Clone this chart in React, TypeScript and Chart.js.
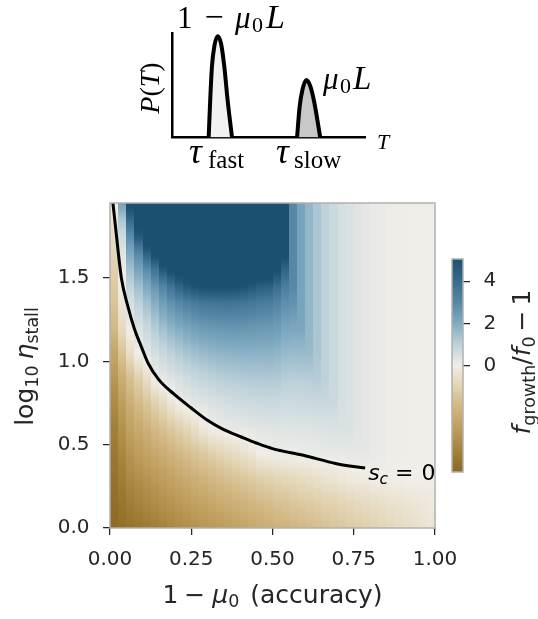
import React, { useEffect, useRef } from 'react';
import { Chart, registerables } from 'chart.js';

Chart.register(...registerables);

const W = 538;
const H = 619;

// ---------------- data ----------------
// heat-map columns (1 - mu0, accuracy): bin edges
const accuracyEdges = [
  0, 0.025, 0.05, 0.075, 0.1, 0.125, 0.15, 0.175, 0.2, 0.225, 0.25, 0.275, 0.3, 0.325, 0.35, 0.375, 0.4, 0.425, 0.45, 0.475, 0.5,
  0.525, 0.55, 0.575, 0.6, 0.625, 0.65, 0.675, 0.7, 0.725, 0.75, 0.775, 0.8, 0.825, 0.85, 0.875, 0.9, 0.925, 0.95, 0.975, 1.0,
];
// heat-map rows (log10 eta_stall), top to bottom
const logEtaLevels = [1.95, 1.85, 1.75, 1.65, 1.55, 1.45, 1.35, 1.2, 1.05, 0.9, 0.75, 0.6, 0.45, 0.3, 0.15, 0];
// f_growth / f_0 - 1 : one row per level, one value per accuracy column
const growthRows = [
  [0.2, 2.3, 5.5, 6, 6, 6, 6, 6, 6, 6, 6, 6, 6, 6, 6, 6, 6, 6, 6, 6, 6, 6, 3.0, 2.2, 1.7, 1.3, 1.0, 0.75, 0.55, 0.45, 0.32, 0.25, 0.15, 0.12, 0.06, 0.03, 0.02, 0.01, 0, 0],
  [-0.4, 1.3, 4.1, 5.6, 6, 6, 6, 6, 6, 6, 6, 6, 6, 6, 6, 6, 6, 6, 6, 6, 6, 6, 3.0, 2.2, 1.7, 1.3, 1.0, 0.75, 0.55, 0.45, 0.32, 0.25, 0.15, 0.12, 0.06, 0.03, 0.02, 0.01, 0, 0],
  [-0.7, 0.7, 2.87, 4.68, 6, 6, 6, 6, 6, 6, 6, 6, 6, 6, 6, 6, 6, 6, 6, 6, 6, 6, 3.0, 2.2, 1.7, 1.3, 1.0, 0.75, 0.55, 0.45, 0.32, 0.25, 0.15, 0.12, 0.06, 0.03, 0.02, 0.01, 0, 0],
  [-0.9, 0.35, 2.1, 3.0, 4.4, 5.4, 6, 6, 6, 6, 6, 6, 6, 6, 6, 6, 6, 6, 6, 6, 6, 5.3, 3.0, 2.2, 1.7, 1.3, 1.0, 0.75, 0.55, 0.45, 0.32, 0.25, 0.15, 0.12, 0.06, 0.03, 0.02, 0.01, 0, 0],
  [-1.1, 0.1, 1.45, 2.2, 2.9, 3.7, 4.7, 5.3, 5.6, 5.8, 6, 6, 6, 6, 6, 6, 6, 6, 6, 6, 5.2, 4.27, 3.0, 2.2, 1.7, 1.3, 1.0, 0.75, 0.55, 0.45, 0.32, 0.25, 0.15, 0.12, 0.06, 0.03, 0.02, 0.01, 0, 0],
  [-1.3, -0.1, 0.95, 1.5, 2.05, 2.6, 3.15, 3.75, 4.3, 4.7, 4.97, 5.2, 5.2, 5.2, 5.2, 5.1, 4.98, 4.78, 4.54, 4.42, 3.97, 3.38, 3.0, 2.2, 1.7, 1.3, 1.0, 0.75, 0.55, 0.45, 0.32, 0.25, 0.15, 0.12, 0.06, 0.03, 0.02, 0.01, 0, 0],
  [-1.5, -0.3, 0.5, 1.0, 1.45, 1.9, 2.35, 2.72, 3.0, 3.25, 3.46, 3.59, 3.66, 3.69, 3.71, 3.68, 3.63, 3.54, 3.42, 3.37, 3.14, 2.79, 2.7, 2.2, 1.7, 1.3, 1.0, 0.75, 0.55, 0.45, 0.32, 0.25, 0.15, 0.12, 0.06, 0.03, 0.02, 0.01, 0, 0],
  [-1.9, -0.7, 0.07, 0.45, 0.8, 1.15, 1.47, 1.75, 1.97, 2.16, 2.32, 2.43, 2.51, 2.55, 2.58, 2.59, 2.58, 2.55, 2.51, 2.49, 2.38, 2.16, 2.1, 2.12, 1.7, 1.3, 1.0, 0.75, 0.55, 0.45, 0.32, 0.25, 0.15, 0.12, 0.06, 0.03, 0.02, 0.01, 0, 0],
  [-2.6, -1.5, -0.6, 0.03, 0.28, 0.55, 0.78, 1.0, 1.18, 1.35, 1.49, 1.6, 1.69, 1.75, 1.78, 1.81, 1.82, 1.82, 1.81, 1.81, 1.75, 1.62, 1.58, 1.6, 1.61, 1.3, 1.0, 0.75, 0.55, 0.45, 0.32, 0.25, 0.15, 0.12, 0.06, 0.03, 0.02, 0.01, 0, 0],
  [-3.2, -2.3, -1.65, -1.1, -0.55, 0.09, 0.24, 0.39, 0.53, 0.67, 0.81, 0.91, 1.01, 1.08, 1.13, 1.17, 1.2, 1.22, 1.23, 1.25, 1.22, 1.12, 1.1, 1.12, 1.14, 1.16, 1.0, 0.75, 0.55, 0.45, 0.32, 0.25, 0.15, 0.12, 0.06, 0.03, 0.02, 0.01, 0, 0],
  [-3.7, -2.9, -2.25, -1.83, -1.44, -1.04, -0.71, -0.3, 0.06, 0.17, 0.28, 0.37, 0.45, 0.53, 0.59, 0.64, 0.68, 0.71, 0.74, 0.76, 0.76, 0.71, 0.71, 0.73, 0.75, 0.78, 0.8, 0.75, 0.55, 0.45, 0.32, 0.25, 0.15, 0.12, 0.06, 0.03, 0.02, 0.01, 0, 0],
  [-4.1, -3.4, -2.78, -2.44, -2.14, -1.83, -1.59, -1.34, -1.1, -0.85, -0.56, -0.23, 0.05, 0.13, 0.17, 0.22, 0.26, 0.29, 0.32, 0.35, 0.36, 0.35, 0.36, 0.38, 0.39, 0.41, 0.43, 0.45, 0.46, 0.45, 0.32, 0.25, 0.15, 0.12, 0.06, 0.03, 0.02, 0.01, 0, 0],
  [-4.4, -3.85, -3.28, -3.0, -2.74, -2.5, -2.29, -2.08, -1.88, -1.69, -1.49, -1.3, -1.11, -0.92, -0.77, -0.62, -0.46, -0.28, 0.0, 0.03, 0.06, 0.07, 0.09, 0.11, 0.12, 0.15, 0.17, 0.19, 0.2, 0.22, 0.23, 0.23, 0.15, 0.12, 0.06, 0.03, 0.02, 0.01, 0, 0],
  [-4.6, -4.2, -3.75, -3.51, -3.3, -3.09, -2.91, -2.72, -2.54, -2.37, -2.2, -2.05, -1.89, -1.75, -1.62, -1.5, -1.38, -1.25, -1.13, -1.02, -0.92, -0.84, -0.76, -0.68, -0.6, -0.51, -0.41, -0.34, -0.26, -0.19, -0.14, -0.1, 0, 0, 0, 0, 0, 0, 0, 0],
  [-4.8, -4.5, -4.19, -4.0, -3.81, -3.64, -3.47, -3.3, -3.13, -2.98, -2.82, -2.69, -2.55, -2.42, -2.3, -2.19, -2.07, -1.95, -1.83, -1.72, -1.61, -1.53, -1.44, -1.35, -1.27, -1.17, -1.08, -1.0, -0.92, -0.83, -0.76, -0.7, -0.62, -0.56, -0.49, -0.43, -0.37, -0.31, -0.25, -0.2],
  [-4.92, -4.77, -4.61, -4.46, -4.3, -4.15, -4.0, -3.84, -3.68, -3.53, -3.39, -3.27, -3.15, -3.03, -2.91, -2.79, -2.67, -2.55, -2.43, -2.31, -2.2, -2.1, -2.0, -1.9, -1.8, -1.7, -1.6, -1.5, -1.4, -1.3, -1.2, -1.11, -1.01, -0.92, -0.82, -0.73, -0.63, -0.54, -0.44, -0.35],
];

// s_c = 0 contour
const contourAccuracy = [0.009, 0.019, 0.035, 0.055, 0.076, 0.096, 0.117, 0.15, 0.199, 0.25, 0.30, 0.35, 0.404, 0.45, 0.50, 0.595, 0.697, 0.785];
const contourLogEta = [1.95, 1.77, 1.50, 1.33, 1.19, 1.09, 0.99, 0.89, 0.80, 0.72, 0.646, 0.59, 0.546, 0.51, 0.476, 0.436, 0.386, 0.36];

// ticks
const xTicks = [0, 0.25, 0.5, 0.75, 1.0];
const yTicks = [0, 0.5, 1.0, 1.5];
const cbarTicks = [0, 2, 4];
const cbarRange = [-5.05, 5.05];

// inset: P(T) schematic peaks
const fastT = [1.90, 1.98, 2.07, 2.19, 2.36, 2.54, 2.71, 2.88, 3.11];
const fastP = [0, 0.36, 0.68, 0.87, 0.97, 0.90, 0.68, 0.36, 0];
const slowT = [6.48, 6.61, 6.75, 6.96, 7.17, 7.38, 7.68];
const slowP = [0, 0.29, 0.45, 0.55, 0.49, 0.33, 0];

// ---------------- style ----------------
const CMAP: [number, number[]][] = [
  [-5.05, [138, 104, 32]],
  [-4, [166, 131, 60]],
  [-3, [190, 156, 90]],
  [-2, [208, 181, 127]],
  [-1, [226, 211, 177]],
  [0, [240, 238, 232]],
  [1, [190, 210, 218]],
  [2, [128, 170, 193]],
  [3, [86, 136, 166]],
  [4, [56, 108, 142]],
  [5.05, [28, 80, 112]],
];
const DJ = '"DejaVu Sans"';
const SERIF = '"Liberation Serif"';
const TXT = '#262626';
const FRAME = '#b0b0b0';

function cmap(v: number): string {
  const lo = CMAP[0][0];
  const hi = CMAP[CMAP.length - 1][0];
  const c = Math.max(lo, Math.min(hi, v));
  for (let i = 1; i < CMAP.length; i++) {
    const [v1, c1] = CMAP[i];
    const [v0, c0] = CMAP[i - 1];
    if (c <= v1) {
      const t = (c - v0) / (v1 - v0);
      const r = Math.round(c0[0] + (c1[0] - c0[0]) * t);
      const g = Math.round(c0[1] + (c1[1] - c0[1]) * t);
      const b = Math.round(c0[2] + (c1[2] - c0[2]) * t);
      return `rgb(${r},${g},${b})`;
    }
  }
  const e = CMAP[CMAP.length - 1][1];
  return `rgb(${e[0]},${e[1]},${e[2]})`;
}

type Seg = { t: string; f: string; dy?: number; gap?: number };

function richWidth(ctx: CanvasRenderingContext2D, segs: Seg[]) {
  let w = 0;
  for (const s of segs) {
    ctx.font = s.f;
    w += (s.gap || 0) + ctx.measureText(s.t).width;
  }
  return w;
}

function drawRich(ctx: CanvasRenderingContext2D, segs: Seg[], x: number, y: number, center: boolean, rot = 0, color = TXT) {
  ctx.save();
  ctx.translate(x, y);
  if (rot) ctx.rotate(rot);
  ctx.fillStyle = color;
  ctx.textAlign = 'left';
  ctx.textBaseline = 'alphabetic';
  let cx = center ? -richWidth(ctx, segs) / 2 : 0;
  for (const s of segs) {
    cx += s.gap || 0;
    ctx.font = s.f;
    ctx.fillText(s.t, cx, s.dy || 0);
    cx += ctx.measureText(s.t).width;
  }
  ctx.restore();
}

// ---------------- plugins ----------------
const heatmapPlugin = {
  id: 'heatmap',
  beforeDatasetsDraw(chart: any) {
    const { ctx, chartArea: a, scales } = chart;
    const xs = scales.x;
    const ys = scales.y;
    ctx.save();
    ctx.beginPath();
    ctx.rect(a.left, a.top, a.right - a.left, a.bottom - a.top);
    ctx.clip();
    const yTop = ys.getPixelForValue(logEtaLevels[0]);
    const yBot = ys.getPixelForValue(logEtaLevels[logEtaLevels.length - 1]);
    for (let i = 0; i < accuracyEdges.length - 1; i++) {
      const xl = Math.round(xs.getPixelForValue(accuracyEdges[i]));
      const xr = Math.round(xs.getPixelForValue(accuracyEdges[i + 1]));
      const g = ctx.createLinearGradient(0, yTop, 0, yBot);
      for (let j = 0; j < logEtaLevels.length; j++) {
        const pj = (ys.getPixelForValue(logEtaLevels[j]) - yTop) / (yBot - yTop);
        const vj = growthRows[j][i];
        g.addColorStop(Math.min(1, Math.max(0, pj)), cmap(vj));
        if (j < logEtaLevels.length - 1) {
          const pn = (ys.getPixelForValue(logEtaLevels[j + 1]) - yTop) / (yBot - yTop);
          const vn = growthRows[j + 1][i];
          for (let k = 1; k < 4; k++) {
            g.addColorStop(pj + ((pn - pj) * k) / 4, cmap(vj + ((vn - vj) * k) / 4));
          }
        }
      }
      ctx.fillStyle = g;
      ctx.fillRect(xl, yTop, xr - xl, yBot - yTop);
    }
    ctx.restore();
  },
  afterDatasetsDraw(chart: any) {
    const { ctx, chartArea: a, scales } = chart;
    ctx.save();
    ctx.strokeStyle = FRAME;
    ctx.lineWidth = 1.5;
    ctx.strokeRect(a.left, a.top, a.right - a.left, a.bottom - a.top);
    ctx.restore();
    // contour label
    const n = contourAccuracy.length - 1;
    const lx = scales.x.getPixelForValue(contourAccuracy[n]) + 3;
    const ly = scales.y.getPixelForValue(contourLogEta[n]) + 12;
    drawRich(ctx, [
      { t: 's', f: `italic 22px ${DJ}` },
      { t: 'c', f: `italic 15.5px ${DJ}`, dy: 4 },
      { t: '=', f: `22px ${DJ}`, gap: 7 },
      { t: '0', f: `22px ${DJ}`, gap: 8 },
    ], lx, ly, false, 0, '#000');
    // axis titles
    drawRich(ctx, [
      { t: '1', f: `25px ${DJ}` },
      { t: '−', f: `25px ${DJ}`, gap: 6 },
      { t: 'μ', f: `italic 25px ${DJ}`, gap: 7 },
      { t: '0', f: `17.5px ${DJ}`, dy: 4 },
      { t: '(accuracy)', f: `25px ${DJ}`, gap: 11 },
    ], (a.left + a.right) / 2, 603, true);
    drawRich(ctx, [
      { t: 'log', f: `25px ${DJ}` },
      { t: '10', f: `17.5px ${DJ}`, dy: 5 },
      { t: 'η', f: `italic 25px ${DJ}`, gap: 6 },
      { t: 'stall', f: `17.5px ${DJ}`, dy: 5 },
    ], 33, (a.top + a.bottom) / 2 + 1, true, -Math.PI / 2);
  },
};

const colorbarPlugin = {
  id: 'colorbar',
  beforeDatasetsDraw(chart: any) {
    const { ctx, chartArea: a, scales } = chart;
    const ys = scales.y;
    const g = ctx.createLinearGradient(0, a.bottom, 0, a.top);
    for (const [v, c] of CMAP) {
      const p = (a.bottom - ys.getPixelForValue(v)) / (a.bottom - a.top);
      g.addColorStop(Math.min(1, Math.max(0, p)), `rgb(${c[0]},${c[1]},${c[2]})`);
    }
    ctx.save();
    ctx.fillStyle = g;
    ctx.fillRect(a.left, a.top, a.right - a.left, a.bottom - a.top);
    ctx.strokeStyle = FRAME;
    ctx.lineWidth = 1.5;
    ctx.strokeRect(a.left, a.top, a.right - a.left, a.bottom - a.top);
    ctx.restore();
    drawRich(ctx, [
      { t: 'f', f: `italic 25px ${DJ}` },
      { t: 'growth', f: `17.5px ${DJ}`, dy: 5 },
      { t: '/', f: `25px ${DJ}` },
      { t: 'f', f: `italic 25px ${DJ}` },
      { t: '0', f: `17.5px ${DJ}`, dy: 5 },
      { t: '−', f: `25px ${DJ}`, gap: 5 },
      { t: '1', f: `25px ${DJ}`, gap: 5 },
    ], 530, 362, true, -Math.PI / 2);
  },
};

const insetTextPlugin = {
  id: 'insetText',
  afterDraw(chart: any) {
    const { ctx } = chart;
    const put = (t: string, f: string, x: number, y: number, align: CanvasTextAlign = 'left') => {
      ctx.save();
      ctx.font = f;
      ctx.fillStyle = '#000';
      ctx.textAlign = align;
      ctx.textBaseline = 'alphabetic';
      ctx.fillText(t, x, y);
      ctx.restore();
    };
    // 1 - mu0 L
    put('1', `31px ${SERIF}`, 177, 28);
    put('−', `34px ${SERIF}`, 214, 28, 'center');
    put('μ', `italic 31px ${SERIF}`, 235, 28);
    put('0', `22px ${SERIF}`, 252, 32);
    put('L', `italic 34px ${SERIF}`, 266, 28);
    // mu0 L
    put('μ', `italic 31px ${SERIF}`, 323, 89);
    put('0', `22px ${SERIF}`, 340, 93);
    put('L', `italic 33px ${SERIF}`, 353, 89);
    // T
    put('T', `italic 22px ${SERIF}`, 377, 149);
    // tau labels
    put('τ', `italic 36px ${SERIF}`, 189, 163);
    put('fast', `25px ${SERIF}`, 208, 168);
    put('τ', `italic 36px ${SERIF}`, 276, 163);
    put('slow', `25px ${SERIF}`, 294, 168);
    // P(T)
    drawRich(ctx, [
      { t: 'P', f: `italic 28px ${SERIF}` },
      { t: '(', f: `28px ${SERIF}` },
      { t: 'T', f: `italic 28px ${SERIF}` },
      { t: ')', f: `28px ${SERIF}` },
    ], 159, 88, true, -Math.PI / 2, '#000');
  },
};

export default function App() {
  const mainRef = useRef<HTMLCanvasElement>(null);
  const cbRef = useRef<HTMLCanvasElement>(null);
  const insetRef = useRef<HTMLCanvasElement>(null);

  useEffect(() => {
    const tickFont = { family: DJ, size: 20 };

    const main = new Chart(mainRef.current as HTMLCanvasElement, {
      type: 'scatter',
      data: {
        datasets: [
          {
            data: contourAccuracy.map((x, i) => ({ x, y: contourLogEta[i] })),
            showLine: true,
            borderColor: '#000',
            borderWidth: 3,
            pointRadius: 0,
            cubicInterpolationMode: 'monotone',
            fill: false,
          } as any,
        ],
      },
      options: {
        animation: false,
        responsive: false,
        devicePixelRatio: 1,
        events: [],
        layout: { padding: { left: 0, top: 203, right: 103, bottom: 0 }, autoPadding: false } as any,
        plugins: { legend: { display: false }, tooltip: { enabled: false } },
        scales: {
          x: {
            type: 'linear',
            min: 0,
            max: 1,
            afterBuildTicks: (s: any) => { s.ticks = xTicks.map((v) => ({ value: v })); },
            afterFit: (s: any) => { s.height = 91; s.paddingLeft = 0; s.paddingRight = 0; },
            ticks: { callback: (v: any) => Number(v).toFixed(2), font: tickFont, color: TXT, padding: 13, maxRotation: 0, autoSkip: false },
            grid: { drawOnChartArea: false, drawTicks: true, tickLength: 7, color: TXT, lineWidth: 1.25 },
            border: { display: false },
          },
          y: {
            type: 'linear',
            min: 0,
            max: 1.95,
            afterBuildTicks: (s: any) => { s.ticks = yTicks.map((v) => ({ value: v })); },
            afterFit: (s: any) => { s.width = 110; s.paddingTop = 0; s.paddingBottom = 0; },
            ticks: { callback: (v: any) => Number(v).toFixed(1), font: tickFont, color: TXT, padding: 13.5, autoSkip: false },
            grid: { drawOnChartArea: false, drawTicks: true, tickLength: 7, color: TXT, lineWidth: 1.25 },
            border: { display: false },
          },
        },
      },
      plugins: [heatmapPlugin],
    });

    const cb = new Chart(cbRef.current as HTMLCanvasElement, {
      type: 'scatter',
      data: { datasets: [] },
      options: {
        animation: false,
        responsive: false,
        devicePixelRatio: 1,
        events: [],
        layout: { padding: { left: 452, top: 259, right: 0, bottom: 147 }, autoPadding: false } as any,
        plugins: { legend: { display: false }, tooltip: { enabled: false } },
        scales: {
          x: { type: 'linear', display: false, min: 0, max: 1 },
          y: {
            type: 'linear',
            position: 'right',
            min: cbarRange[0],
            max: cbarRange[1],
            afterBuildTicks: (s: any) => { s.ticks = cbarTicks.map((v) => ({ value: v })); },
            afterFit: (s: any) => { s.width = 75; s.paddingTop = 0; s.paddingBottom = 0; },
            ticks: { callback: (v: any) => String(v), font: tickFont, color: TXT, padding: 13.5, autoSkip: false },
            grid: { drawOnChartArea: false, drawTicks: true, tickLength: 7, color: TXT, lineWidth: 1.25 },
            border: { display: false },
          },
        },
      },
      plugins: [colorbarPlugin],
    });

    const inset = new Chart(insetRef.current as HTMLCanvasElement, {
      type: 'scatter',
      data: {
        datasets: [
          {
            data: fastT.map((x, i) => ({ x, y: fastP[i] })),
            showLine: true,
            fill: 'origin',
            backgroundColor: '#f2f2f2',
            borderColor: '#000',
            borderWidth: 4,
            pointRadius: 0,
            cubicInterpolationMode: 'monotone',
            clip: false,
          } as any,
          {
            data: slowT.map((x, i) => ({ x, y: slowP[i] })),
            showLine: true,
            fill: 'origin',
            backgroundColor: '#c8c8c8',
            borderColor: '#000',
            borderWidth: 4,
            pointRadius: 0,
            cubicInterpolationMode: 'monotone',
            clip: false,
          } as any,
        ],
      },
      options: {
        animation: false,
        responsive: false,
        devicePixelRatio: 1,
        events: [],
        layout: { padding: { left: 172, top: 33, right: 173, bottom: H - 137.5 }, autoPadding: false } as any,
        plugins: { legend: { display: false }, tooltip: { enabled: false } },
        scales: {
          x: {
            type: 'linear', min: 0, max: 10,
            ticks: { display: false },
            grid: { display: false },
            border: { display: true, color: '#000', width: 2.5 },
            afterFit: (s: any) => { s.height = 0; s.paddingLeft = 0; s.paddingRight = 0; },
          },
          y: {
            type: 'linear', min: 0, max: 1,
            ticks: { display: false },
            grid: { display: false },
            border: { display: true, color: '#000', width: 2.5 },
            afterFit: (s: any) => { s.width = 0; s.paddingTop = 0; s.paddingBottom = 0; },
          },
        },
      },
      plugins: [insetTextPlugin],
    });

    return () => {
      main.destroy();
      cb.destroy();
      inset.destroy();
    };
  }, []);

  const cs: React.CSSProperties = { position: 'absolute', left: 0, top: 0, width: W, height: H };
  return (
    <div style={{ position: 'fixed', left: 0, top: 0, width: W, height: H, background: '#fff' }}>
      <canvas ref={mainRef} width={W} height={H} style={cs} />
      <canvas ref={cbRef} width={W} height={H} style={cs} />
      <canvas ref={insetRef} width={W} height={H} style={cs} />
    </div>
  );
}
